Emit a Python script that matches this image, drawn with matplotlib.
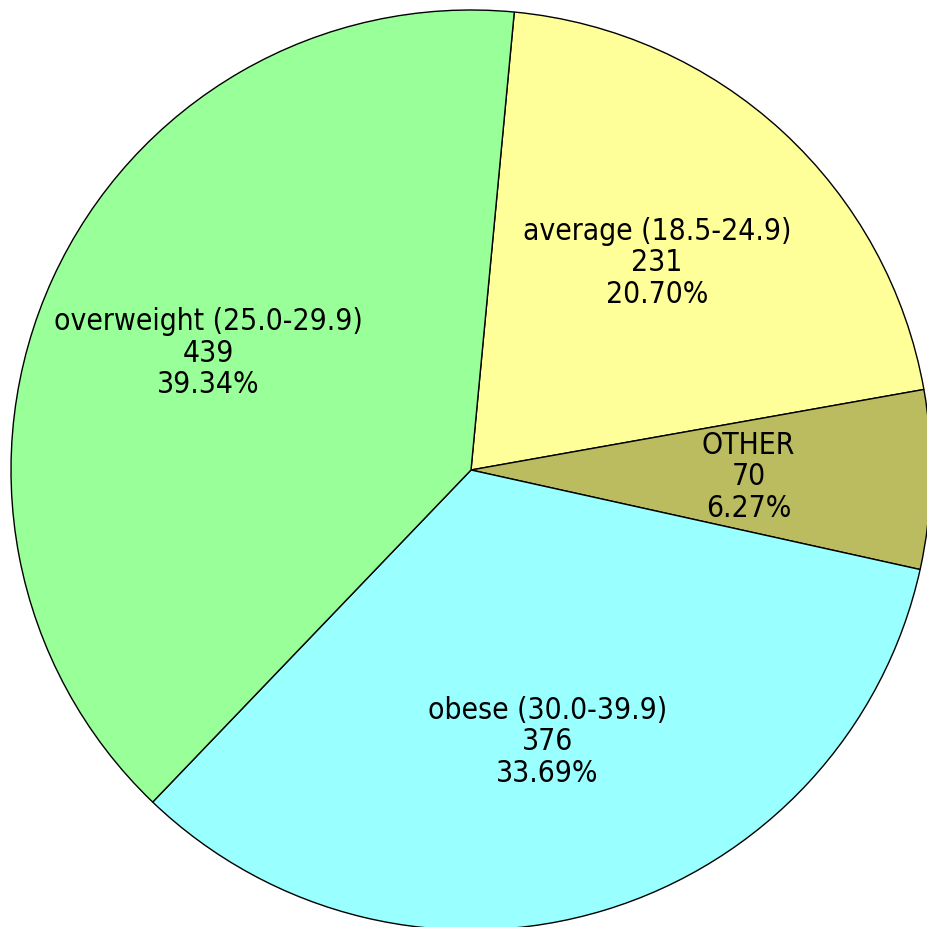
import matplotlib
matplotlib.use("Agg")
import matplotlib.pyplot as plt
from matplotlib import font_manager
import numpy as np

# slice data, in drawing order (clockwise from the top)
names = ["average (18.5-24.9)", "OTHER", "obese (30.0-39.9)", "overweight (25.0-29.9)"]
counts = [231, 70, 376, 439]
colors = ["#ffff99", "#bbbb5f", "#99ffff", "#99ff99"]

avail = {f.name for f in font_manager.fontManager.ttflist}
fam = "DejaVu Sans Condensed" if "DejaVu Sans Condensed" in avail else "DejaVu Sans"

fig = plt.figure(figsize=(9.28, 9.28), dpi=100)
ax = fig.add_axes([0, 0, 1, 1])

wedges, _ = ax.pie(
    counts,
    colors=colors,
    startangle=84.6,
    counterclock=False,
    wedgeprops=dict(edgecolor="black", linewidth=1.0),
)

total = sum(counts)
for w, name, n in zip(wedges, names, counts):
    mid = np.deg2rad((w.theta1 + w.theta2) / 2)
    r = 0.615
    ax.text(r * np.cos(mid) - 0.012, r * np.sin(mid),
            f"{name}\n{n}\n{100 * n / total:.2f}%",
            ha="center", va="center", fontsize=21.5, linespacing=1.1,
            family=fam, fontstretch="condensed")

# circle centre sits at (471, 471) px with a 460 px radius, slightly cut off right/bottom
rad = 460.0
ax.set_xlim(-471 / rad, (928 - 471) / rad)
ax.set_ylim(-(928 - 471) / rad, 471 / rad)
ax.set_aspect("auto")
ax.axis("off")

fig.savefig("out.png", dpi=100)
